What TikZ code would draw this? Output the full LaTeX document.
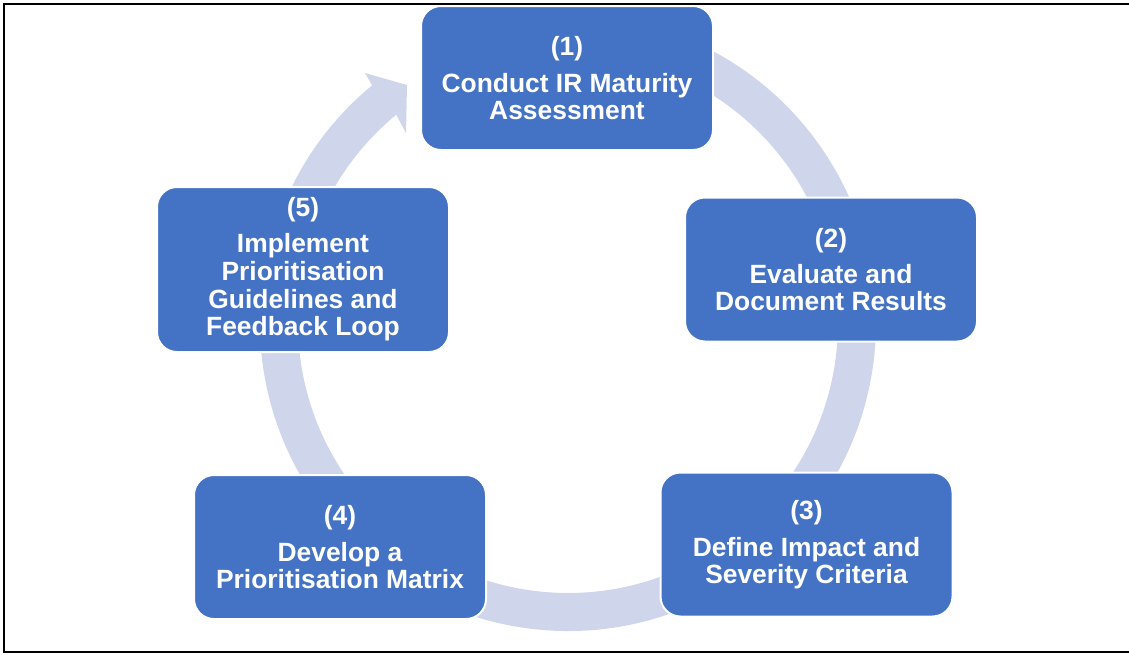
\documentclass[tikz,border=0pt]{standalone}
\usepackage{fontspec}
\setmainfont{Liberation Sans}
\usetikzlibrary{calc}
\definecolor{boxblue}{HTML}{4472C4}
\definecolor{ringblue}{HTML}{CFD5EA}
\begin{document}
\begin{tikzpicture}[x=0.75pt,y=-0.75pt,
  stepbox/.style={draw=white, line width=1.5pt, fill=boxblue, rounded corners=15pt,
    minimum width=219pt, minimum height=108pt, text=white, align=center,
    font=\bfseries\fontsize{19.8pt}{20.25pt}\selectfont, inner sep=0pt},
  ring/.style={fill=ringblue, draw=none},
  frameline/.style={line width=1.5pt, draw=black}
  ]
\useasboundingbox (0,0) rectangle (1129,654);
\draw[frameline] (1129,4) -- (4,4) -- (4,652) -- (1129,652);
% cycle ring with arrowhead
\coordinate (c) at (568,323);
\coordinate (barbout) at (365,73);
\coordinate (tiptop) at (407,85);
\coordinate (tipbot) at (406,133);
\fill[ring] ($(c)+(-80:308)$) arc[start angle=-80, end angle=230.5, radius=308]
  -- (barbout) -- (tiptop) -- (tipbot) -- ($(c)+(230.5:270)$)
  arc[start angle=230.5, end angle=-80, radius=270] -- cycle;
% boxes
\node[stepbox] (s1) at (567,78) {(1)\\[7pt]Conduct IR Maturity\\Assessment};
\node[stepbox] (s2) at (831,269.5) {(2)\\[7pt]Evaluate and\\Document Results};
\node[stepbox] (s3) at (806.5,544.5) {(3)\\[7pt]Define Impact and\\Severity Criteria};
\node[stepbox] (s4) at (340,547) {(4)\\[7pt]Develop a\\Prioritisation Matrix};
\node[stepbox, minimum height=123.75pt, font=\bfseries\fontsize{19.8pt}{20.8pt}\selectfont] (s5) at (303,269.5) {(5)\\[6pt]Implement\\Prioritisation\\Guidelines and\\Feedback Loop};
\end{tikzpicture}
\end{document}
